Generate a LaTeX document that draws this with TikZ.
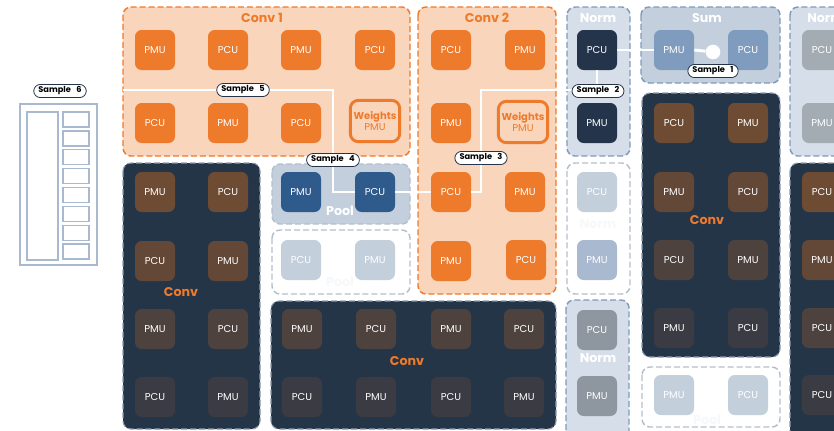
\documentclass[tikz,border=0pt]{standalone}
\usepackage{fontspec}
\setmainfont{Poppins}
\usetikzlibrary{shapes.geometric}
\definecolor{peach}{HTML}{F9D5BB}
\definecolor{orng}{HTML}{EE7A2B}
\definecolor{normbg}{HTML}{D6DEE9}
\definecolor{sumbg}{HTML}{C3CFDC}
\definecolor{bluedash}{HTML}{7E9BBC}
\definecolor{sumblk}{HTML}{7F9CBE}
\definecolor{poolblk}{HTML}{2E5A8C}
\definecolor{navy}{HTML}{24344A}
\definecolor{darkbg}{HTML}{253548}
\definecolor{darkdash}{HTML}{8E9CB0}
\definecolor{greyblk}{HTML}{A3ABB3}
\definecolor{greyblkb}{HTML}{8E969F}
\definecolor{paleblk}{HTML}{C4CFDC}
\definecolor{paleblkb}{HTML}{A9B9CF}
\definecolor{whitedash}{HTML}{B5BFCB}
\definecolor{brA}{HTML}{6D4C33}
\definecolor{brB}{HTML}{634737}
\definecolor{brC}{HTML}{4E423F}
\definecolor{brD}{HTML}{3B3C43}
\definecolor{memline}{HTML}{A9B9D0}
\definecolor{faint}{HTML}{F7F8FA}
\begin{document}
\begin{tikzpicture}[x=0.75pt,y=-0.75pt,
  blk/.style={rounded corners=5pt,minimum width=30pt,minimum height=30pt,inner sep=0pt,text=white,font=\fontsize{7.5}{8}\selectfont},
  wbox/.style={rounded corners=6pt,draw=orng,line width=2.2pt,fill=peach,minimum width=37pt,minimum height=31pt,inner sep=0pt,align=center,text=orng,font=\fontsize{7.5}{8.5}\selectfont},
  grp/.style={rounded corners=6pt,dash pattern=on 4.5pt off 2.2pt,line width=1.1pt},
  ttl/.style={font=\bfseries\fontsize{9.5}{10}\selectfont,inner sep=0pt},
  pill/.style={draw=navy,fill=white,rounded corners=5pt,line width=0.6pt,inner xsep=3.5pt,inner ysep=1.8pt,font=\bfseries\fontsize{6.2}{7}\selectfont,text=black},
  wire/.style={draw=white,line width=2.2pt},
  memrect/.style={draw=memline,line width=1pt}]
\useasboundingbox (0,0) rectangle (834,430);
\clip (0,0) rectangle (834,430);

% ---- containers ----
\path[grp,draw=orng,fill=peach] (123,7) rectangle (410,156);
\path[grp,draw=orng,fill=peach] (418,7) rectangle (556,294);
\path[grp,draw=bluedash,fill=normbg] (567,7) rectangle (630,156);
\path[grp,draw=bluedash,fill=sumbg] (641,7) rectangle (780,83);
\path[grp,draw=bluedash,fill=normbg] (790,7) rectangle (860,156);
\path[grp,draw=darkdash,fill=darkbg,line width=0.8pt] (642,93) rectangle (780,357);
\path[grp,draw=whitedash,fill=white] (642,367) rectangle (780,427);
\path[grp,draw=darkdash,fill=darkbg,line width=0.8pt] (790,163) rectangle (860,450);
\path[grp,draw=whitedash,fill=white] (567,163) rectangle (630,294);
\path[grp,draw=bluedash,fill=normbg] (566,300) rectangle (629,450);
\path[grp,draw=whitedash,fill=sumbg] (272,164) rectangle (410,224);
\path[grp,draw=whitedash,fill=white] (272,230) rectangle (410,294);
\path[grp,draw=darkdash,fill=darkbg,line width=0.8pt] (271,301) rectangle (556,429);
\path[grp,draw=darkdash,fill=darkbg,line width=0.8pt] (123,163) rectangle (260,429);

% ---- titles ----
\node[ttl,text=orng] (tc1) at (262,18) {Conv 1};
\node[ttl,text=orng] (tc2) at (487,18) {Conv 2};
\node[ttl,text=white] (tn1) at (598,18) {Norm};
\node[ttl,text=white] (tsum) at (707,18) {Sum};
\node[ttl,text=white,anchor=west] (tn2) at (807,18) {Norm};
\node[ttl,text=orng] (tcr) at (707,220) {Conv};
\node[ttl,text=orng] (tcl) at (181,292) {Conv};
\node[ttl,text=orng] (tcb) at (407,361) {Conv};
\node[ttl,text=white] (tpool) at (340,211) {Pool};
\node[ttl,text=white] (tn3) at (598,358) {Norm};
\node[ttl,text=faint] (tfp1) at (340,282) {Pool};
\node[ttl,text=faint] (tfp2) at (707,420) {Pool};
\node[ttl,text=faint] (tfn) at (598,224) {Norm};

% ---- Conv 1 ----
\node[blk,fill=orng] (c1a) at (155,50) {PMU};
\node[blk,fill=orng] (c1b) at (228,50) {PCU};
\node[blk,fill=orng] (c1c) at (301,50) {PMU};
\node[blk,fill=orng] (c1d) at (375,50) {PCU};
\node[blk,fill=orng] (c1e) at (155,123) {PCU};
\node[blk,fill=orng] (c1f) at (228,123) {PMU};
\node[blk,fill=orng] (c1g) at (301,123) {PCU};
\node[wbox] (c1w) at (375,121) {\textbf{Weights}\\PMU};

% ---- Conv 2 ----
\node[blk,fill=orng] (c2a) at (451,50) {PCU};
\node[blk,fill=orng] (c2b) at (525,50) {PMU};
\node[blk,fill=orng] (c2c) at (451,123) {PMU};
\node[wbox] (c2w) at (523,122) {\textbf{Weights}\\PMU};
\node[blk,fill=orng] (c2d) at (451,192) {PCU};
\node[blk,fill=orng] (c2e) at (525,192) {PMU};
\node[blk,fill=orng] (c2f) at (451,261) {PMU};
\node[blk,fill=orng] (c2g) at (526,260) {PCU};

% ---- Norm top ----
\node[blk,fill=navy] (n1a) at (597,50) {PCU};
\node[blk,fill=navy] (n1b) at (597,123) {PMU};

% ---- Sum ----
\node[blk,fill=sumblk] (sa) at (674,50) {PMU};
\node[blk,fill=sumblk] (sb) at (748,50) {PCU};
\node[circle,fill=white,minimum size=11pt,inner sep=0pt] (dot) at (713,52) {};

% ---- Norm right ----
\node[blk,fill=greyblk] (n2a) at (822,50) {PCU};
\node[blk,fill=greyblk] (n2b) at (822,123) {PMU};

% ---- Conv right ----
\node[blk,fill=brA] (cra) at (674,123) {PCU};
\node[blk,fill=brA] (crb) at (748,123) {PMU};
\node[blk,fill=brB] (crc) at (674,192) {PMU};
\node[blk,fill=brB] (crd) at (748,192) {PCU};
\node[blk,fill=brC] (cre) at (674,260) {PCU};
\node[blk,fill=brC] (crf) at (748,260) {PMU};
\node[blk,fill=brD] (crg) at (674,328) {PMU};
\node[blk,fill=brD] (crh) at (748,328) {PCU};
\node[blk,fill=paleblk] (wra) at (674,395) {PMU};
\node[blk,fill=paleblk] (wrb) at (748,395) {PCU};

% ---- far right dark ----
\node[blk,fill=brA] (fra) at (822,192) {PCU};
\node[blk,fill=brB] (frb) at (822,260) {PMU};
\node[blk,fill=brC] (frc) at (822,328) {PCU};
\node[blk,fill=brD] (frd) at (822,395) {PCU};

% ---- Norm white & lower ----
\node[blk,fill=paleblk] (nwa) at (597,192) {PCU};
\node[blk,fill=paleblkb] (nwb) at (597,260) {PMU};
\node[blk,fill=greyblkb] (n3a) at (597,330) {PCU};
\node[blk,fill=greyblkb] (n3b) at (597,396) {PMU};

% ---- Pool ----
\node[blk,fill=poolblk] (pa) at (301,192) {PMU};
\node[blk,fill=poolblk] (pb) at (375,192) {PCU};
\node[blk,fill=paleblk] (pwa) at (301,260) {PCU};
\node[blk,fill=paleblk] (pwb) at (375,260) {PMU};

% ---- Conv bottom ----
\node[blk,fill=brC] (cba) at (302,329) {PMU};
\node[blk,fill=brC] (cbb) at (376,329) {PCU};
\node[blk,fill=brC] (cbc) at (451,329) {PMU};
\node[blk,fill=brC] (cbd) at (524,329) {PCU};
\node[blk,fill=brD] (cbe) at (302,397) {PCU};
\node[blk,fill=brD] (cbf) at (376,397) {PMU};
\node[blk,fill=brD] (cbg) at (451,397) {PCU};
\node[blk,fill=brD] (cbh) at (524,397) {PMU};

% ---- Conv left ----
\node[blk,fill=brA] (cla) at (155,192) {PMU};
\node[blk,fill=brA] (clb) at (228,192) {PCU};
\node[blk,fill=brB] (clc) at (155,261) {PCU};
\node[blk,fill=brB] (cld) at (228,261) {PMU};
\node[blk,fill=brC] (cle) at (155,329) {PMU};
\node[blk,fill=brC] (clf) at (228,329) {PCU};
\node[blk,fill=brD] (clg) at (155,397) {PCU};
\node[blk,fill=brD] (clh) at (228,397) {PMU};

% ---- memory structure ----
\node[memrect,minimum width=57.75pt,minimum height=120.75pt,inner sep=0pt] (mem) at (58.5,184.5) {};
\node[memrect,minimum width=23.25pt,minimum height=111pt,inner sep=0pt] (memL) at (42.5,186) {};
\foreach \i in {0,...,7}{
  \node[memrect,minimum width=19.5pt,minimum height=11.25pt,inner sep=0pt] (memr\i) at (76,119.5+18.86*\i) {};
}

% ---- wires ----
\coordinate (w0) at (123,90);
\draw[wire] (w0) -- (333,90) -- (333,192) -- (pb.west);
\draw[wire] (pb.east) -- (c2d.west);
\draw[wire] (c2d.east) -- (481,192) -- (481,90) -- (597,90) -- (n1a.south);
\draw[wire] (n1a.east) -- (sa.west);
\draw[wire] (sa.east) -- (dot);

% ---- sample labels ----
\node[pill] (s6) at (60,91) {Sample\hspace{4pt}6};
\node[pill] (s5) at (243,90) {Sample\hspace{4pt}5};
\node[pill] (s4) at (333,160) {Sample\hspace{4pt}4};
\node[pill] (s3) at (481,158) {Sample\hspace{4pt}3};
\node[pill] (s2) at (598,91) {Sample\hspace{4pt}2};
\node[pill] (s1) at (713,71) {Sample\hspace{4pt}1};
\end{tikzpicture}
\end{document}
